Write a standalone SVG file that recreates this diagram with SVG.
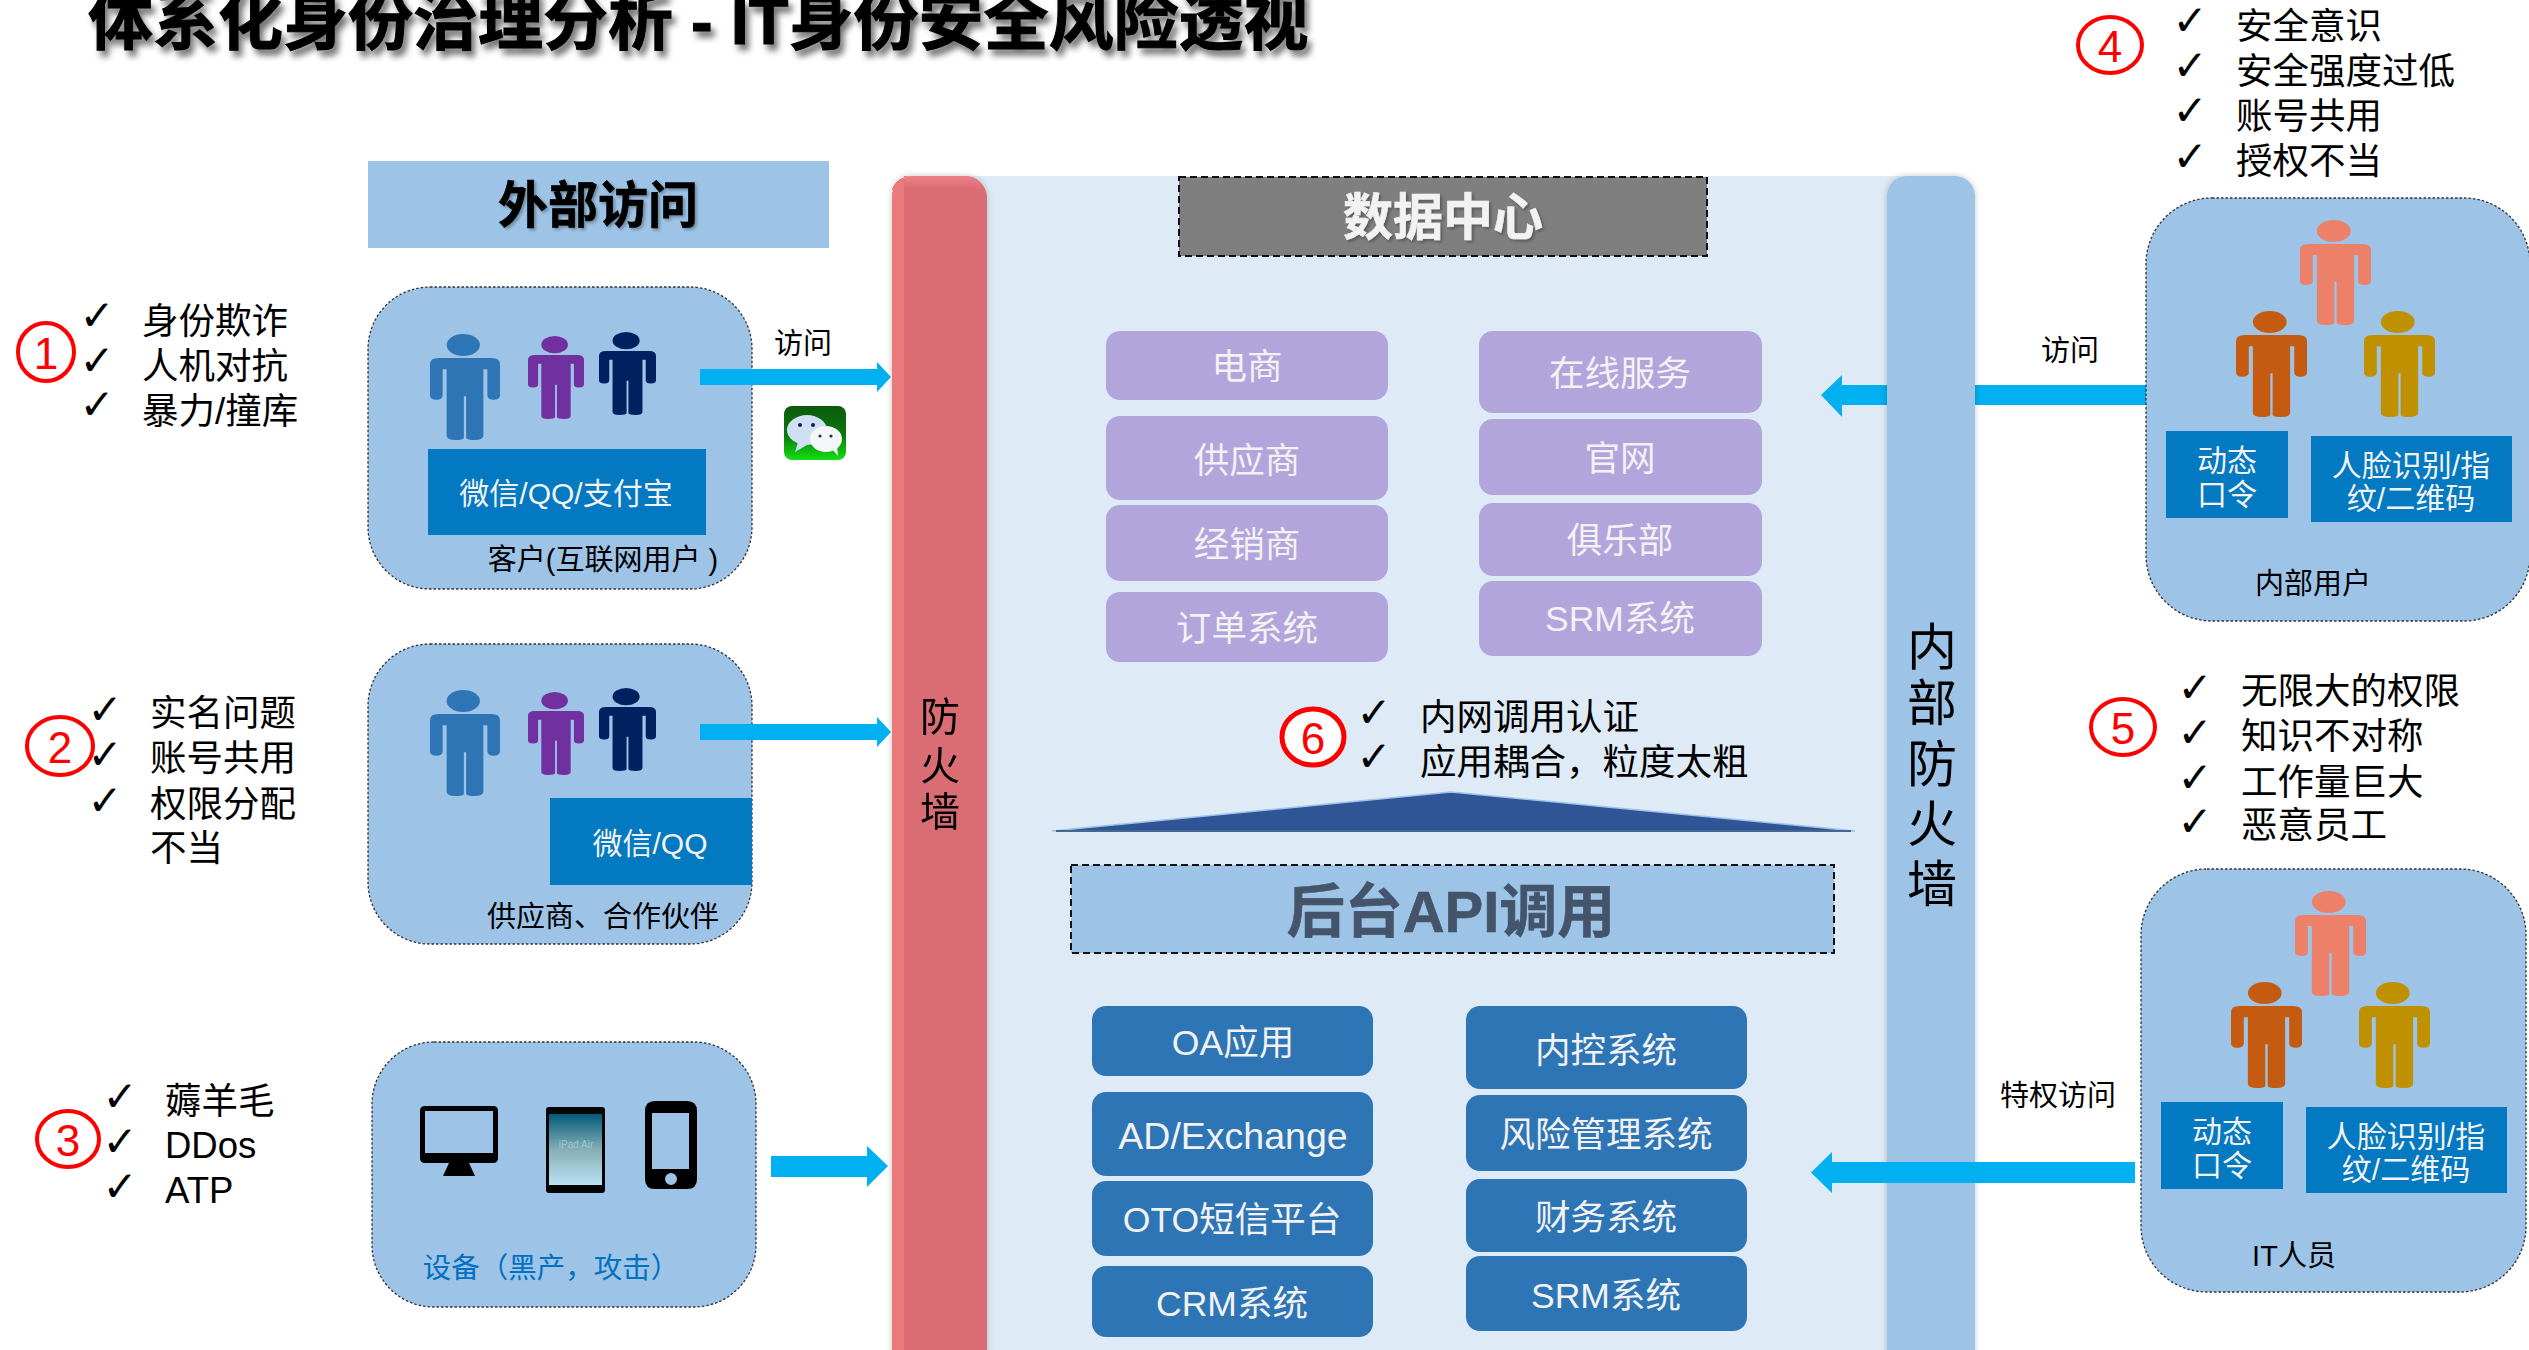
<svg xmlns="http://www.w3.org/2000/svg" width="2529" height="1350" viewBox="0 0 2529 1350">
<style>
text{font-family:"Liberation Sans","Noto Sans CJK SC",sans-serif;text-anchor:middle;dominant-baseline:central;transform:translateY(1px)}
.l{text-anchor:start}
.li{font-size:36.5px;fill:#000}
.ck{font-family:"DejaVu Sans",sans-serif;font-size:42px;font-weight:bold;fill:#000}
.node{fill:#9DC3E6;stroke:#333;stroke-width:1.3;stroke-dasharray:2.5 2}
.bx{fill:#0279C0}
.w30{font-size:30px;fill:#F2F2F2}
.lb{font-size:29px;fill:#000}
.pur{fill:#B1A5DC}
.blu{fill:#2E75B6}
.tw{font-size:35.5px;fill:#F2F2F2}
.arr{fill:#00B0F0}
.rc{fill:#fff;stroke:#F00;stroke-width:4}
.rt{font-size:44px;fill:#F00}
.hd{stroke:#111;stroke-width:2;stroke-dasharray:7 4}
.big{font-size:50px;font-weight:bold;stroke-width:.6px}
</style>
<defs>
<symbol id="person" viewBox="0 0 122 255" preserveAspectRatio="none">
<ellipse cx="58" cy="26.5" rx="29" ry="26.5"/>
<path d="M15 58H107Q122 58 122 73V148Q122 158 111 158Q100 158 100 148V85H93V245Q93 255 78 255Q65 255 63 250V150H59V250Q57 255 44 255Q29 255 29 245V85H22V148Q22 158 11 158Q0 158 0 148V73Q0 58 15 58Z"/>
</symbol>
<filter id="sh" x="-5%" y="-30%" width="110%" height="170%"><feDropShadow dx="4" dy="6" stdDeviation="3" flood-color="#000" flood-opacity=".55"/></filter>
<filter id="sh2" x="-10%" y="-10%" width="120%" height="120%"><feDropShadow dx="2" dy="2" stdDeviation="1.5" flood-color="#000" flood-opacity=".3"/></filter>
<filter id="sh3" x="-10%" y="-2%" width="120%" height="104%"><feDropShadow dx="0" dy="0" stdDeviation="3" flood-color="#000" flood-opacity=".22"/></filter>
<linearGradient id="wx" x1="0" y1="0" x2="0" y2="1"><stop offset="0" stop-color="#0B5A0B"/><stop offset=".55" stop-color="#0B7A0B"/><stop offset="1" stop-color="#14E014"/></linearGradient>
<linearGradient id="ip" x1="0" y1="0" x2="0" y2="1"><stop offset="0" stop-color="#01597A"/><stop offset=".5" stop-color="#86AEB5"/><stop offset="1" stop-color="#B9E2F5"/></linearGradient>
<linearGradient id="rim" x1="0" y1="0" x2="0" y2="1"><stop offset="0" stop-color="#EC7E85"/><stop offset="1" stop-color="#DA6D73"/></linearGradient>
</defs>

<text id="title" class="l" x="88" y="20" font-size="65" font-weight="bold" fill="#000" stroke="#000" stroke-width="1" filter="url(#sh)">体系化身份治理分析 - IT身份安全风险透视</text>

<g id="header-external"><rect x="368" y="161" width="461" height="87" fill="#9DC3E6"/><text x="598" y="205" class="big" fill="#000" stroke="#000" filter="url(#sh2)">外部访问</text></g>

<g id="datacenter-bg"><rect x="960" y="176" width="950" height="1174" fill="#DEEAF6"/></g>

<g id="connector-internal">
<path class="arr" d="M2146 385H1842V375L1821 395 1842 417V405H2146Z"/>
</g>

<g id="node-customer">
<rect class="node" x="368" y="287" width="384" height="302" rx="62"/>
<use href="#person" x="430" y="334" width="70" height="106" fill="#2E75B6"/>
<use href="#person" x="528" y="336" width="56" height="83" fill="#7030A0"/>
<use href="#person" x="599" y="332" width="57" height="83" fill="#002060"/>
<rect class="bx" x="428" y="449" width="278" height="86"/>
<text class="w30" x="566" y="492">微信/QQ/支付宝</text>
<text class="lb" x="603" y="559">客户(互联网用户 )</text>
</g>
<g id="label-visit-1"><text class="lb" x="803" y="343">访问</text></g>
<g id="icon-wechat">
<rect x="784" y="406" width="62" height="54" rx="8" fill="url(#wx)"/>
<ellipse cx="807" cy="430" rx="20" ry="15" fill="#CFE0F5"/><path d="M798 442l-3 10 12-7z" fill="#CFE0F5"/>
<ellipse cx="826" cy="439" rx="16" ry="13" fill="#F4F6F8"/><path d="M832 449l6 7-1-9z" fill="#F4F6F8"/>
<circle cx="800" cy="425" r="2" fill="#124"/><circle cx="813" cy="425" r="2" fill="#124"/><circle cx="820" cy="436" r="1.6" fill="#234"/><circle cx="831" cy="436" r="1.6" fill="#234"/>
</g>

<g id="node-partner">
<rect class="node" x="368" y="644" width="384" height="300" rx="62"/>
<use href="#person" x="430" y="690" width="70" height="106" fill="#2E75B6"/>
<use href="#person" x="528" y="692" width="56" height="83" fill="#7030A0"/>
<use href="#person" x="599" y="688" width="57" height="83" fill="#002060"/>
<rect class="bx" x="550" y="798" width="202" height="87"/>
<text class="w30" x="650" y="842">微信/QQ</text>
<text class="lb" x="603" y="916">供应商、合作伙伴</text>
</g>

<g id="node-device">
<rect class="node" x="372" y="1042" width="384" height="265" rx="62"/>
<path d="M425 1106H493Q498 1106 498 1111V1158Q498 1163 493 1163H469L475 1176H443L449 1163H425Q420 1163 420 1158V1111Q420 1106 425 1106ZM425 1111V1153H493V1111Z" fill="#000" fill-rule="evenodd"/>
<rect x="546" y="1107" width="59" height="86" rx="3" fill="#050505"/>
<rect x="549" y="1114" width="53" height="71" fill="url(#ip)"/>
<text x="576" y="1143" font-size="10" fill="#9CC">iPad Air</text>
<path d="M655 1101H687Q697 1101 697 1111V1179Q697 1189 687 1189H655Q645 1189 645 1179V1111Q645 1101 655 1101ZM652 1113V1169H689V1113ZM671 1173A6 6 0 1 0 671.01 1185A6 6 0 1 0 671 1173Z" fill="#000" fill-rule="evenodd"/>
<text x="551" y="1267" font-size="28.5" fill="#0070C0">设备（黑产，攻击）</text>
</g>

<g id="firewall" filter="url(#sh3)">
<rect x="892" y="176" width="95" height="1200" rx="22" fill="#DA6D73"/>
<path d="M914 176H965Q979 176 985 190H892Q896 176 914 176Z" fill="url(#rim)"/>
<path d="M914 176Q892 176 892 198V1350H904V176Z" fill="#EC7A7B"/>
<text x="940" y="716" font-size="40" fill="#000">防</text><text x="940" y="765" font-size="40" fill="#000">火</text><text x="940" y="811" font-size="40" fill="#000">墙</text>
</g>

<g id="inner-firewall" filter="url(#sh3)">
<rect x="1887" y="176" width="88" height="1200" rx="20" fill="#9DC3E6"/>
<text x="1932" y="647" font-size="50" fill="#000">内</text><text x="1932" y="703" font-size="50" fill="#000">部</text><text x="1932" y="764" font-size="50" fill="#000">防</text><text x="1932" y="824" font-size="50" fill="#000">火</text><text x="1932" y="884" font-size="50" fill="#000">墙</text>
</g>

<g id="connectors">
<path class="arr" d="M700 369H877V362L891 377 877 392V385H700Z"/>
<path class="arr" d="M700 724H877V717L891 732 877 747V740H700Z"/>
<path class="arr" d="M771 1156H867V1146L888 1166 867 1187V1177H771Z"/>
<path class="arr" d="M2135 1162H1832V1152L1811 1172.500 1832 1193V1183H2135Z"/>
</g>

<g id="header-datacenter"><rect class="hd" x="1179" y="177" width="528" height="79" fill="#7F7F7F"/><text x="1443" y="217" class="big" fill="#F2F2F2" stroke="#F2F2F2" filter="url(#sh2)">数据中心</text></g>

<g id="box-ds"><rect class="pur" x="1106" y="331" width="282" height="69" rx="14"/><text class="tw" x="1247" y="366">电商</text></g>
<g id="box-gys"><rect class="pur" x="1106" y="416" width="282" height="84" rx="14"/><text class="tw" x="1247" y="460">供应商</text></g>
<g id="box-jxs"><rect class="pur" x="1106" y="505" width="282" height="76" rx="14"/><text class="tw" x="1247" y="544">经销商</text></g>
<g id="box-dd"><rect class="pur" x="1106" y="592" width="282" height="70" rx="14"/><text class="tw" x="1247" y="628">订单系统</text></g>
<g id="box-zx"><rect class="pur" x="1479" y="331" width="283" height="82" rx="14"/><text class="tw" x="1620" y="373">在线服务</text></g>
<g id="box-gw"><rect class="pur" x="1479" y="419" width="283" height="76" rx="14"/><text class="tw" x="1620" y="458">官网</text></g>
<g id="box-jlb"><rect class="pur" x="1479" y="503" width="283" height="73" rx="14"/><text class="tw" x="1620" y="540">俱乐部</text></g>
<g id="box-srm1"><rect class="pur" x="1479" y="581" width="283" height="75" rx="14"/><text class="tw" x="1620" y="618">SRM系统</text></g>

<g id="issue-6">
<ellipse cx="1313" cy="737" rx="31" ry="28" fill="#fff" stroke="#F00" stroke-width="5"/><text class="rt" x="1313" y="737">6</text>
<text class="ck" x="1374" y="711">✓</text><text class="ck" x="1374" y="755">✓</text>
<text class="li l" x="1420" y="716">内网调用认证</text><text class="li l" x="1420" y="761">应用耦合，粒度太粗</text>
</g>
<g id="api-roof"><path d="M1052 831L1451 792 1855 831Z" fill="#2F5597" stroke="#9DC3E6" stroke-width="1.5"/><path d="M1056 831H1851" stroke="#44668F" stroke-width="2"/></g>
<g id="header-api"><rect class="hd" x="1071" y="865" width="763" height="88" fill="#9DC3E6"/><text x="1451" y="910" font-size="58" font-weight="bold" fill="#44546A" stroke="#44546A" stroke-width=".6">后台API调用</text></g>

<g id="box-oa"><rect class="blu" x="1092" y="1006" width="281" height="70" rx="14"/><text class="tw" x="1233" y="1042">OA应用</text></g>
<g id="box-ad"><rect class="blu" x="1092" y="1092" width="281" height="84" rx="14"/><text x="1233" y="1135" font-size="37.500" fill="#F2F2F2">AD/Exchange</text></g>
<g id="box-oto"><rect class="blu" x="1092" y="1181" width="281" height="75" rx="14"/><text class="tw" x="1232" y="1219">OTO短信平台</text></g>
<g id="box-crm"><rect class="blu" x="1092" y="1266" width="281" height="71" rx="14"/><text class="tw" x="1232" y="1303">CRM系统</text></g>
<g id="box-nk"><rect class="blu" x="1466" y="1006" width="281" height="83" rx="14"/><text class="tw" x="1606" y="1050">内控系统</text></g>
<g id="box-fx"><rect class="blu" x="1466" y="1095" width="281" height="76" rx="14"/><text class="tw" x="1606" y="1134">风险管理系统</text></g>
<g id="box-cw"><rect class="blu" x="1466" y="1179" width="281" height="73" rx="14"/><text class="tw" x="1606" y="1217">财务系统</text></g>
<g id="box-srm2"><rect class="blu" x="1466" y="1256" width="281" height="75" rx="14"/><text class="tw" x="1606" y="1295">SRM系统</text></g>

<g id="node-internal">
<rect class="node" x="2146" y="198" width="384" height="423" rx="66"/>
<use href="#person" x="2300" y="220" width="71" height="105" fill="#EC8069"/>
<use href="#person" x="2236" y="311" width="71" height="106" fill="#C55A11"/>
<use href="#person" x="2364" y="311" width="71" height="106" fill="#BF9000"/>
<rect class="bx" x="2166" y="431" width="122" height="87"/>
<text class="w30" x="2227" y="459">动态</text><text class="w30" x="2227" y="493">口令</text>
<rect class="bx" x="2311" y="436" width="201" height="86"/>
<text class="w30" x="2411" y="464">人脸识别/指</text><text class="w30" x="2411" y="497">纹/二维码</text>
<text class="lb" x="2313" y="583">内部用户</text>
</g>
<g id="label-visit-2"><text class="lb" x="2070" y="350">访问</text></g>

<g id="node-it">
<rect class="node" x="2141" y="869" width="385" height="423" rx="66"/>
<use href="#person" x="2295" y="891" width="71" height="105" fill="#EC8069"/>
<use href="#person" x="2231" y="982" width="71" height="106" fill="#C55A11"/>
<use href="#person" x="2359" y="982" width="71" height="106" fill="#BF9000"/>
<rect class="bx" x="2161" y="1102" width="122" height="87"/>
<text class="w30" x="2222" y="1130">动态</text><text class="w30" x="2222" y="1164">口令</text>
<rect class="bx" x="2306" y="1107" width="201" height="86"/>
<text class="w30" x="2406" y="1135">人脸识别/指</text><text class="w30" x="2406" y="1168">纹/二维码</text>
<text class="lb" x="2294" y="1255">IT人员</text>
</g>
<g id="label-priv"><text class="lb" x="2058" y="1095">特权访问</text></g>

<g id="issue-1">
<ellipse class="rc" cx="46" cy="352" rx="28" ry="29"/><text class="rt" x="46" y="352">1</text>
<text class="ck" x="97" y="314">✓</text><text class="ck" x="97" y="359">✓</text><text class="ck" x="97" y="403">✓</text>
<text class="li l" x="142" y="320">身份欺诈</text><text class="li l" x="142" y="365">人机对抗</text><text class="li l" x="142" y="410">暴力/撞库</text>
</g>
<g id="issue-2">
<ellipse class="rc" cx="60" cy="746" rx="33" ry="29"/><text class="rt" x="60" y="746">2</text>
<text class="ck" x="105" y="708">✓</text><text class="ck" x="105" y="753">✓</text><text class="ck" x="105" y="799">✓</text>
<text class="li l" x="150" y="712">实名问题</text><text class="li l" x="150" y="757">账号共用</text><text class="li l" x="150" y="803">权限分配</text><text class="li l" x="150" y="847">不当</text>
</g>
<g id="issue-3">
<ellipse class="rc" cx="68" cy="1139" rx="31" ry="28"/><text class="rt" x="68" y="1139">3</text>
<text class="ck" x="120" y="1095">✓</text><text class="ck" x="120" y="1140">✓</text><text class="ck" x="120" y="1185">✓</text>
<text class="li l" x="165" y="1100">薅羊毛</text><text class="li l" x="165" y="1144">DDos</text><text class="li l" x="165" y="1189">ATP</text>
</g>
<g id="issue-4">
<ellipse class="rc" cx="2110" cy="45" rx="32" ry="28"/><text class="rt" x="2110" y="45">4</text>
<text class="ck" x="2190" y="19">✓</text><text class="ck" x="2190" y="64">✓</text><text class="ck" x="2190" y="109">✓</text><text class="ck" x="2190" y="155">✓</text>
<text class="li l" x="2236" y="25">安全意识</text><text class="li l" x="2236" y="70">安全强度过低</text><text class="li l" x="2236" y="115">账号共用</text><text class="li l" x="2236" y="160">授权不当</text>
</g>
<g id="issue-5">
<ellipse class="rc" cx="2123" cy="727" rx="32" ry="28"/><text class="rt" x="2123" y="727">5</text>
<text class="ck" x="2195" y="686">✓</text><text class="ck" x="2195" y="731">✓</text><text class="ck" x="2195" y="776">✓</text><text class="ck" x="2195" y="820">✓</text>
<text class="li l" x="2241" y="690">无限大的权限</text><text class="li l" x="2241" y="735">知识不对称</text><text class="li l" x="2241" y="781">工作量巨大</text><text class="li l" x="2241" y="824">恶意员工</text>
</g>
</svg>
